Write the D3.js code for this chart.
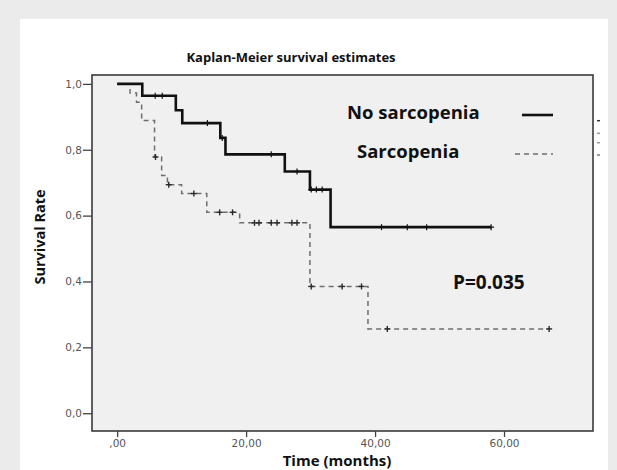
<!DOCTYPE html>
<html>
<head>
<meta charset="utf-8">
<script src="https://cdn.jsdelivr.net/npm/d3@7"></script>
<style>
	body { margin: 0; background: #ebebec; }
	svg { display: block; }
</style>
</head>
<body>
<div id="chart"></div>
<script>

	///////////////////////////////////////////////////////////////////////////
	///////////////////////////////// Data ////////////////////////////////////
	///////////////////////////////////////////////////////////////////////////

	//No sarcopenia - times where the curve steps, and survival after each step
	var noSarcTimes = [0, 3.9, 9.1, 10.1, 16.0, 16.8, 26.0, 29.9, 33.1];
	var noSarcSurv = [1.0, 0.964, 0.920, 0.881, 0.836, 0.786, 0.734, 0.679, 0.565];
	var noSarcCensor = [5.9, 7.0, 14.0, 16.3, 23.9, 27.9, 30.1, 30.9, 31.8, 41.0, 45.0, 48.0, 58.0];
	var noSarcEnd = 58;

	//Sarcopenia
	var sarcTimes = [0, 2.0, 3.0, 3.8, 5.8, 6.9, 7.8, 10.0, 13.9, 19.0, 29.9, 38.9];
	var sarcSurv = [1.0, 0.972, 0.944, 0.889, 0.778, 0.722, 0.694, 0.667, 0.610, 0.578, 0.385, 0.256];
	var sarcCensor = [5.95, 8.0, 11.9, 15.9, 17.9, 21.3, 22.0, 23.9, 24.8, 27.1, 27.9, 30.1, 34.9, 37.9, 41.9, 67.0];
	var sarcEnd = 67;

	var xTicks = [0, 20, 40, 60];
	var xTickLabels = [",00", "20,00", "40,00", "60,00"];
	var yTicks = [0, 0.2, 0.4, 0.6, 0.8, 1.0];
	var yTickLabels = ["0,0", "0,2", "0,4", "0,6", "0,8", "1,0"];

	///////////////////////////////////////////////////////////////////////////
	//////////////////// Set up and initiate svg container ////////////////////
	///////////////////////////////////////////////////////////////////////////

	var width = 617,
		height = 470;

	var svg = d3.select("#chart").append("svg")
		.attr("width", width)
		.attr("height", height);

	//Gray page with white panel
	svg.append("rect")
		.attr("width", width)
		.attr("height", height)
		.style("fill", "#ebebec");
	svg.append("rect")
		.attr("x", 20)
		.attr("y", 19)
		.attr("width", 588)
		.attr("height", height)
		.style("fill", "#ffffff");

	var plot = { left: 92, right: 593, top: 75, bottom: 431 };

	var x = d3.scaleLinear()
		.domain([-3.9, 73.8])
		.range([plot.left, plot.right]);

	var y = d3.scaleLinear()
		.domain([-0.054, 1.027])
		.range([plot.bottom, plot.top]);

	//Plot background and frame
	svg.append("rect")
		.attr("x", plot.left)
		.attr("y", plot.top)
		.attr("width", plot.right - plot.left)
		.attr("height", plot.bottom - plot.top)
		.style("fill", "#f0f0f0")
		.style("stroke", "#3a3a3a")
		.style("stroke-width", 1.6);

	///////////////////////////////////////////////////////////////////////////
	//////////////////////////////// Axes /////////////////////////////////////
	///////////////////////////////////////////////////////////////////////////

	var xAxis = d3.axisBottom(x)
		.tickValues(xTicks)
		.tickSize(6)
		.tickPadding(3)
		.tickFormat(function(d, i) { return xTickLabels[i]; });

	var gx = svg.append("g")
		.attr("class", "x axis")
		.attr("transform", "translate(0," + plot.bottom + ")")
		.call(xAxis);

	var yAxis = d3.axisLeft(y)
		.tickValues(yTicks)
		.tickSize(9)
		.tickPadding(1)
		.tickFormat(function(d, i) { return yTickLabels[i]; });

	var gy = svg.append("g")
		.attr("class", "y axis")
		.attr("transform", "translate(" + plot.left + ",0)")
		.call(yAxis);

	[gx, gy].forEach(function(g) {
		g.select(".domain").remove();
		g.selectAll("line").style("stroke", "#444").style("stroke-width", 1.3);
		g.selectAll("text")
			.style("font-family", "'DejaVu Sans', Verdana, sans-serif")
			.style("font-size", "10.5px")
			.style("fill", "#555");
	});

	///////////////////////////////////////////////////////////////////////////
	/////////////////////////////// Curves ////////////////////////////////////
	///////////////////////////////////////////////////////////////////////////

	var line = d3.line()
		.x(function(d) { return x(d[0]); })
		.y(function(d) { return y(d[1]); })
		.curve(d3.curveStepAfter);

	function stepPoints(times, surv, end) {
		var pts = times.map(function(t, i) { return [t, surv[i]]; });
		pts.push([end, surv[surv.length - 1]]);
		return pts;
	}

	function survAt(times, surv, t) {
		var s = surv[0];
		times.forEach(function(tt, i) { if (tt <= t) s = surv[i]; });
		return s;
	}

	function drawCensor(times, surv, censor, colour, w) {
		var arm = 3;
		var g = svg.append("g");
		censor.forEach(function(c) {
			var cx = x(c), cy = y(survAt(times, surv, c));
			g.append("line")
				.attr("x1", cx).attr("x2", cx)
				.attr("y1", cy - arm).attr("y2", cy + arm)
				.style("stroke", colour).style("stroke-width", w);
			g.append("line")
				.attr("x1", cx - arm).attr("x2", cx + arm)
				.attr("y1", cy).attr("y2", cy)
				.style("stroke", colour).style("stroke-width", w);
		});
	}

	//Sarcopenia - dashed gray
	svg.append("path")
		.datum(stepPoints(sarcTimes, sarcSurv, sarcEnd))
		.attr("d", line)
		.style("fill", "none")
		.style("stroke", "#6e6e6e")
		.style("stroke-width", 1.5)
		.style("stroke-dasharray", "5,4");
	drawCensor(sarcTimes, sarcSurv, sarcCensor, "#2a2a2a", 1.4);

	//No sarcopenia - solid black
	svg.append("path")
		.datum(stepPoints(noSarcTimes, noSarcSurv, noSarcEnd))
		.attr("d", line)
		.style("fill", "none")
		.style("stroke", "#111")
		.style("stroke-width", 2.6);
	drawCensor(noSarcTimes, noSarcSurv, noSarcCensor, "#111", 1.2);

	///////////////////////////////////////////////////////////////////////////
	/////////////////////////////// Texts /////////////////////////////////////
	///////////////////////////////////////////////////////////////////////////

	var boldFont = "'Open Sans', 'Noto Sans', sans-serif";

	svg.append("text")
		.attr("x", 291)
		.attr("y", 62)
		.style("text-anchor", "middle")
		.style("font-family", boldFont)
		.style("font-weight", "bold")
		.style("font-size", "13px")
		.style("fill", "#111")
		.text("Kaplan-Meier survival estimates");

	svg.append("text")
		.attr("transform", "translate(45,237)rotate(-90)")
		.style("text-anchor", "middle")
		.style("font-family", boldFont)
		.style("font-weight", "bold")
		.style("font-size", "14.5px")
		.style("fill", "#111")
		.text("Survival Rate");

	svg.append("text")
		.attr("x", 337)
		.attr("y", 466)
		.style("text-anchor", "middle")
		.style("font-family", boldFont)
		.style("font-weight", "bold")
		.style("font-size", "15px")
		.style("fill", "#111")
		.text("Time (months)");

	//Legend
	svg.append("text")
		.attr("x", 347)
		.attr("y", 119)
		.style("font-family", boldFont)
		.style("font-weight", "bold")
		.style("font-size", "18.5px")
		.style("fill", "#111")
		.text("No sarcopenia");
	svg.append("line")
		.attr("x1", 522).attr("x2", 553)
		.attr("y1", 115).attr("y2", 115)
		.style("stroke", "#111")
		.style("stroke-width", 2.6);

	svg.append("text")
		.attr("x", 357)
		.attr("y", 158)
		.style("font-family", boldFont)
		.style("font-weight", "bold")
		.style("font-size", "18.5px")
		.style("fill", "#111")
		.text("Sarcopenia");
	svg.append("line")
		.attr("x1", 515).attr("x2", 553)
		.attr("y1", 154).attr("y2", 154)
		.style("stroke", "#6e6e6e")
		.style("stroke-width", 1.5)
		.style("stroke-dasharray", "5,4");

	svg.append("text")
		.attr("x", 453)
		.attr("y", 289)
		.style("font-family", boldFont)
		.style("font-weight", "bold")
		.style("font-size", "19px")
		.style("fill", "#111")
		.text("P=0.035");

	//Little marks cut off at the right edge
	[[120.7, "#333"], [133.3, "#999"], [142.7, "#999"], [155, "#777"]].forEach(function(m) {
		svg.append("line")
			.attr("x1", 597).attr("x2", 600)
			.attr("y1", m[0]).attr("y2", m[0])
			.style("stroke", m[1])
			.style("stroke-width", 1.5);
	});

</script>
</body>
</html>
